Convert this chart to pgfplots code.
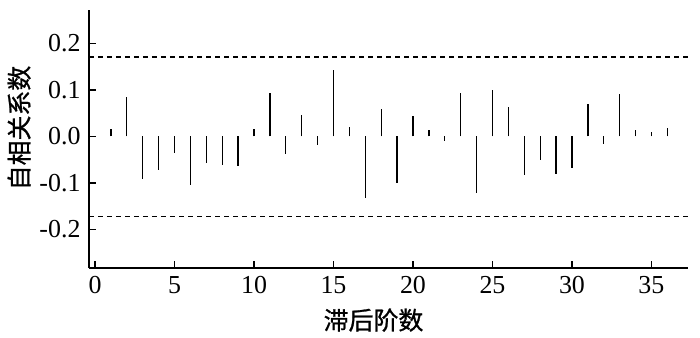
\documentclass[border=0pt]{standalone}
\usepackage{pgfplots}
\pgfplotsset{compat=1.18}
\usepackage{fontspec}
\setmainfont{Liberation Serif}
\newfontfamily\cjk[FakeBold=1]{Noto Sans CJK SC}
\begin{document}
\begin{tikzpicture}
\begin{axis}[
  width=599bp, height=258bp, scale only axis,
  xmin=-0.38, xmax=37.3, ymin=-0.283, ymax=0.272,
  axis x line=bottom, axis y line=left,
  axis line style={-, line width=1.6bp, black},
  tick align=inside, major tick length=7bp,
  tick style={line width=1.4bp, black},
  xtick={0,5,...,35}, ytick={-0.2,-0.1,0,0.1,0.2},
  /pgf/number format/assume math mode=true,
  yticklabel style={/pgf/number format/fixed, /pgf/number format/fixed zerofill, /pgf/number format/precision=1, xshift=-5bp},
  xticklabel style={yshift=-5bp},
  ticklabel style={font=\fontsize{26}{29}\selectfont},
  xlabel={\cjk 滞后阶数}, ylabel={\cjk 自相关系数},
  label style={font=\fontsize{25}{29}\selectfont},
  xlabel style={at={(axis description cs:0.475,0)}, anchor=north, yshift=-37bp},
  ylabel style={yshift=2bp, xshift=11bp},
  clip=false,
]
\addplot[ycomb, black, line width=1.3bp, mark=none] coordinates {
(1,0.015) (2,0.085) (3,-0.091) (4,-0.073) (5,-0.035) (6,-0.104)
(7,-0.057) (8,-0.061) (9,-0.064) (10,0.016) (11,0.094) (12,-0.038)
(13,0.047) (14,-0.018) (15,0.142) (16,0.021) (17,-0.132) (18,0.058)
(19,-0.100) (20,0.043) (21,0.013) (22,-0.010) (23,0.094) (24,-0.122)
(25,0.100) (26,0.064) (27,-0.083) (28,-0.051) (29,-0.080) (30,-0.067)
(31,0.069) (32,-0.016) (33,0.092) (34,0.013) (35,0.010) (36,0.018)
};
\addplot[black, dashed, line width=1.2bp, dash pattern=on 5bp off 4bp] coordinates {(-0.38,0.171) (37.3,0.171)};
\addplot[black, dashed, line width=1.2bp, dash pattern=on 5bp off 4bp] coordinates {(-0.38,-0.172) (37.3,-0.172)};
\end{axis}
\path (current axis.south west) ++(-89bp,-70bp) coordinate (bbsw);
\path (current axis.north east) ++(12bp,10bp) coordinate (bbne);
\path (bbsw) rectangle (bbne);
\end{tikzpicture}
\end{document}
